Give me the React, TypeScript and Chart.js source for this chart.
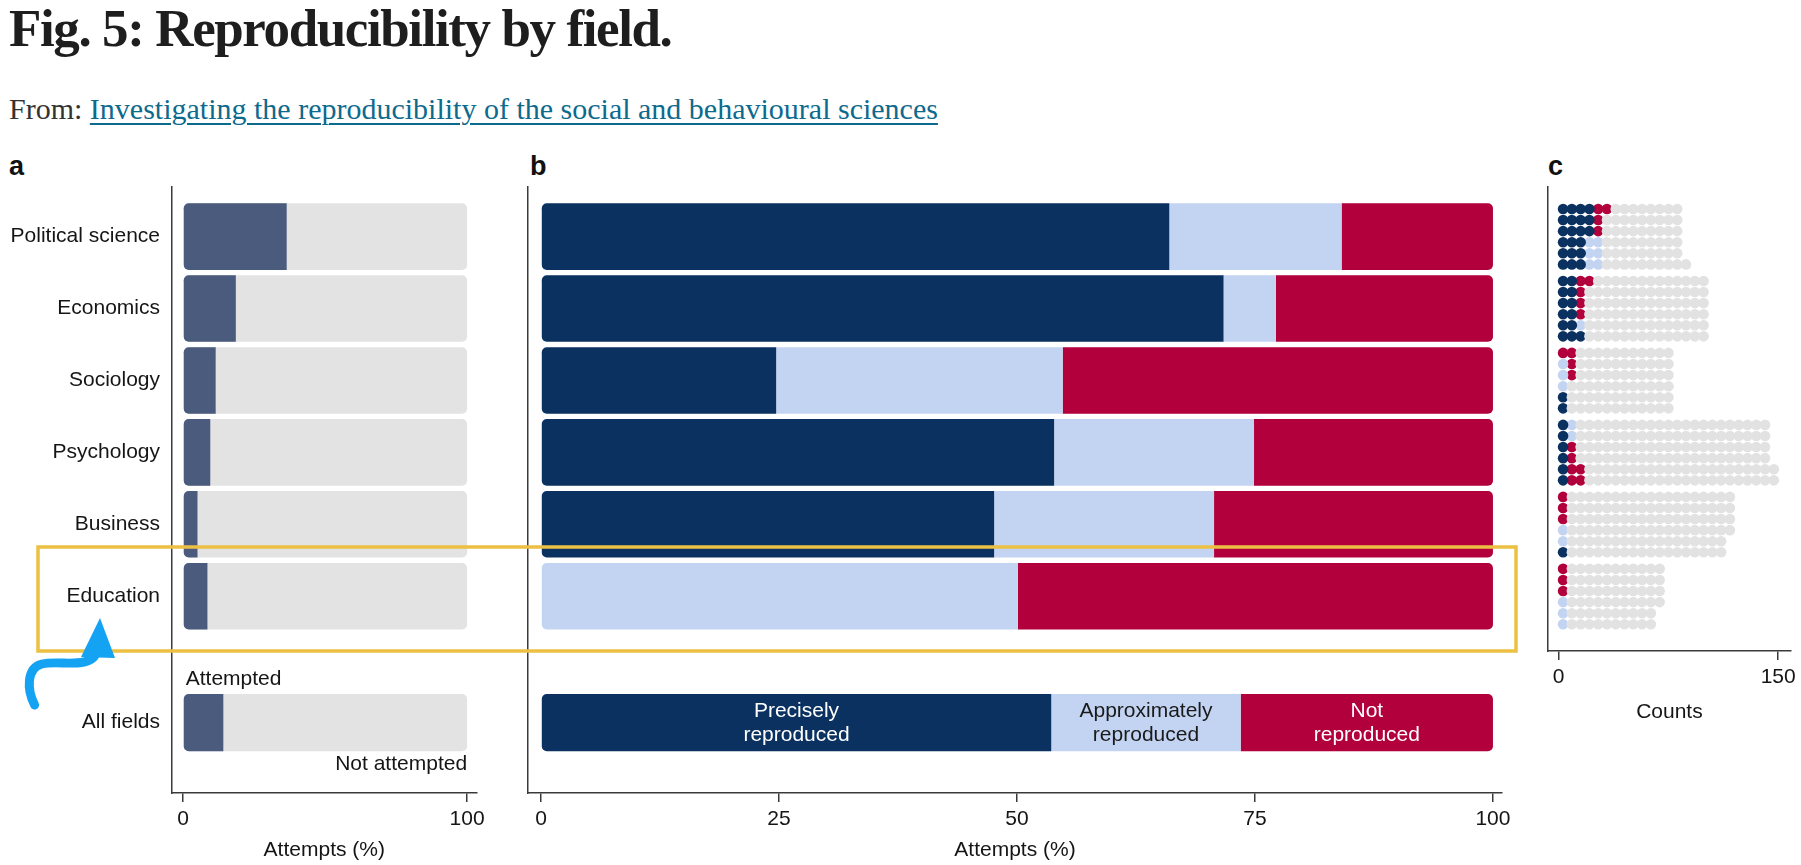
import React, { useEffect, useRef } from "react";
import { Chart, registerables } from "chart.js";

Chart.register(...registerables);

// ---------------- data ----------------
const fields = ["Political science", "Economics", "Sociology", "Psychology", "Business", "Education"];
const allFieldsLabel = "All fields";

// panel a: share of claims attempted (%)
const attemptLabels = ["Attempted", "Not attempted"];
const attemptedPct = [36.5, 18.6, 11.5, 9.6, 5.1, 8.6];
const allAttemptedPct = 14.2;

// panel b: outcome shares of attempts (%)
const outcomeLabels = [["Precisely", "reproduced"], ["Approximately", "reproduced"], ["Not", "reproduced"]];
const precisePct = [66.0, 71.7, 24.7, 53.9, 47.6, 0];
const approxPct = [18.1, 5.5, 30.1, 21.0, 23.1, 50.1];
const notPct = [15.9, 22.8, 45.2, 25.1, 29.3, 49.9];
const allPrecisePct = 53.6;
const allApproxPct = 19.9;
const allNotPct = 26.5;

// panel c: counts of claims
const preciseCount = [21, 13, 2, 6, 1, 0];
const approxCount = [6, 1, 3, 2, 2, 3];
const notCount = [4, 5, 4, 6, 3, 3];
const totalCount = [85, 102, 78, 146, 118, 70];

// tick labels
const ticksA = [0, 100];
const ticksB = [0, 25, 50, 75, 100];
const ticksC = [0, 150];
const axisTitleAB = "Attempts (%)";
const axisTitleC = "Counts";

// ---------------- style ----------------
const FONT = "'Liberation Sans', Arial, Helvetica, sans-serif";
const AXIS = "#3a3a3a";
const TEXT = "#151515";
const SLATE = "#4a5b7e";
const GRAY = "#e3e3e3";
const NAVY = "#0b3160";
const LIGHT = "#c3d4f3";
const RED = "#b1003b";
const DOT_GRAY = "#e2e2e2";
const R = 5;

// layout (index positions on the row axis)
const ALL_POS = 6.757;
const Y_MIN = -0.69;
const Y_MAX_AB = 7.736;
const Y_MAX_C = 5.756;
const ROW_STEP = 0.154;
const DOTS_PER_COL = 6;

const rowTicks = [...fields.map((_, i) => i), ALL_POS];
const rowTicksC = fields.map((_, i) => i);
const rowLabel = (v: number) => (v === ALL_POS ? allFieldsLabel : fields[v] ?? "");

function yScale(max: number, ticks: number[], width: number, showLabels: boolean) {
  return {
    type: "linear" as const,
    reverse: true,
    offset: false,
    min: Y_MIN,
    max,
    afterBuildTicks: (s: any) => {
      s.ticks = ticks.map((v) => ({ value: v }));
    },
    afterFit: (s: any) => {
      s.width = width;
      s.paddingTop = 0;
      s.paddingBottom = 0;
    },
    grid: { display: false, drawTicks: false, offset: false },
    border: { display: true, color: AXIS, width: 1.5 },
    ticks: {
      display: showLabels,
      autoSkip: false,
      padding: 12,
      color: TEXT,
      font: { family: FONT, size: 21 },
      callback: (v: any) => rowLabel(Number(v)),
    },
  };
}

function xScale(min: number, max: number, ticks: number[], height: number, title: string, titlePad: number) {
  return {
    type: "linear" as const,
    min,
    max,
    offset: false,
    afterBuildTicks: (s: any) => {
      s.ticks = ticks.map((v) => ({ value: v }));
    },
    afterFit: (s: any) => {
      s.height = height;
    },
    grid: { display: true, drawOnChartArea: false, drawTicks: true, tickLength: 9, color: AXIS, lineWidth: 1.5 },
    border: { display: true, color: AXIS, width: 1.5 },
    ticks: { padding: 5, color: TEXT, maxRotation: 0, autoSkip: false, font: { family: FONT, size: 21 }, callback: (v: any) => String(v) },
    title: { display: true, text: title, color: TEXT, font: { family: FONT, size: 21 }, padding: { top: 0, bottom: titlePad } },
  };
}

const edgeRadius = (ctx: any) => {
  const raw = ctx.raw;
  if (!raw || !raw.x) return 0;
  const [s, e] = raw.x;
  const l = s <= 0 ? R : 0;
  const r = e >= 100 ? R : 0;
  return { topLeft: l, bottomLeft: l, topRight: r, bottomRight: r };
};

function barDs(label: string, data: any[], color: string, pct: number, order: number, extra: any = {}) {
  return {
    label,
    data,
    backgroundColor: color,
    barPercentage: pct,
    categoryPercentage: 1,
    grouped: false,
    borderSkipped: false,
    borderRadius: edgeRadius,
    order,
    ...extra,
  };
}

function baseOptions(padTop: number, padRight: number, scales: any) {
  return {
    responsive: false,
    animation: false as const,
    events: [],
    indexAxis: "y" as const,
    layout: { padding: { top: padTop, right: padRight, left: 0, bottom: 0 } },
    plugins: { legend: { display: false }, tooltip: { enabled: false } },
    scales,
  };
}

function waffleData(category: number) {
  const pts: { x: number; y: number }[] = [];
  fields.forEach((_, i) => {
    const counts = [preciseCount[i], approxCount[i], notCount[i], totalCount[i] - preciseCount[i] - approxCount[i] - notCount[i]];
    let k = 0;
    counts.forEach((n, c) => {
      for (let j = 0; j < n; j++, k++) {
        if (c !== category) continue;
        const col = Math.floor(k / DOTS_PER_COL);
        const pos = k % DOTS_PER_COL;
        const row = col % 2 === 0 ? DOTS_PER_COL - 1 - pos : pos;
        pts.push({ x: col * DOTS_PER_COL + DOTS_PER_COL / 2, y: i + (row - (DOTS_PER_COL - 1) / 2) * ROW_STEP });
      }
    });
  });
  return pts;
}

export default function App() {
  const refA = useRef<HTMLCanvasElement>(null);
  const refB = useRef<HTMLCanvasElement>(null);
  const refC = useRef<HTMLCanvasElement>(null);

  useEffect(() => {
    Chart.defaults.font.family = FONT;

    // ---------- panel a ----------
    const labelsA = {
      id: "labelsA",
      afterDatasetsDraw(chart: any) {
        const ctx = chart.ctx;
        const att: any = chart.getDatasetMeta(2).data[0];
        const tot: any = chart.getDatasetMeta(3).data[0];
        ctx.save();
        ctx.font = `21px ${FONT}`;
        ctx.fillStyle = TEXT;
        ctx.textBaseline = "middle";
        ctx.textAlign = "left";
        ctx.fillText(attemptLabels[0], att.base + 2, att.y - att.height / 2 - 15);
        ctx.textAlign = "right";
        ctx.fillText(attemptLabels[1], tot.x, tot.y + tot.height / 2 + 13);
        ctx.restore();
      },
    };
    const chartA = new Chart(refA.current!, {
      type: "bar",
      data: {
        datasets: [
          barDs(attemptLabels[0], fields.map((_, i) => ({ x: [0, attemptedPct[i]], y: i })), SLATE, 0.925, 0),
          barDs("Total", fields.map((_, i) => ({ x: [0, 100], y: i })), GRAY, 0.925, 1),
          barDs(attemptLabels[0] + " (all)", [{ x: [0, allAttemptedPct], y: ALL_POS }], SLATE, 0.797, 0),
          barDs("Total (all)", [{ x: [0, 100], y: ALL_POS }], GRAY, 0.797, 1),
        ],
      } as any,
      options: baseOptions(17, 13, {
        x: xScale(-3.87, 103.34, ticksA, 72, axisTitleAB, 2),
        y: yScale(Y_MAX_AB, rowTicks, 172, true),
      }) as any,
      plugins: [labelsA],
    });

    // ---------- panel b ----------
    const segs = (p: number[], a: number[]) => {
      const pre: any[] = [], app: any[] = [], not: any[] = [];
      fields.forEach((_, i) => {
        if (p[i] > 0) pre.push({ x: [0, p[i]], y: i });
        if (a[i] > 0) app.push({ x: [p[i], p[i] + a[i]], y: i });
        not.push({ x: [p[i] + a[i], 100], y: i });
      });
      return [pre, app, not];
    };
    const [preD, appD, notD] = segs(precisePct, approxPct);
    void notPct;
    void allNotPct;
    const labelsB = {
      id: "labelsB",
      afterDatasetsDraw(chart: any) {
        const ctx = chart.ctx;
        ctx.save();
        ctx.font = `21px ${FONT}`;
        ctx.textAlign = "center";
        ctx.textBaseline = "middle";
        chart.data.datasets.forEach((ds: any, di: number) => {
          if (!ds.textLines) return;
          const el: any = chart.getDatasetMeta(di).data[0];
          const cx = (el.x + el.base) / 2;
          ctx.fillStyle = ds.textColor;
          ctx.fillText(ds.textLines[0], cx, el.y - 11.5);
          ctx.fillText(ds.textLines[1], cx, el.y + 12.5);
        });
        ctx.restore();
      },
    };
    const chartB = new Chart(refB.current!, {
      type: "bar",
      data: {
        datasets: [
          barDs("Precisely reproduced", preD, NAVY, 0.925, 0),
          barDs("Approximately reproduced", appD, LIGHT, 0.925, 0),
          barDs("Not reproduced", notD, RED, 0.925, 0),
          barDs("Precisely reproduced (all)", [{ x: [0, allPrecisePct], y: ALL_POS }], NAVY, 0.797, 0, { textLines: outcomeLabels[0], textColor: "#ffffff" }),
          barDs("Approximately reproduced (all)", [{ x: [allPrecisePct, allPrecisePct + allApproxPct], y: ALL_POS }], LIGHT, 0.797, 0, { textLines: outcomeLabels[1], textColor: "#1a1a1a" }),
          barDs("Not reproduced (all)", [{ x: [allPrecisePct + allApproxPct, 100], y: ALL_POS }], RED, 0.797, 0, { textLines: outcomeLabels[2], textColor: "#ffffff" }),
        ],
      } as any,
      options: baseOptions(17, 28, {
        x: xScale(-1.37, 100.95, ticksB, 72, axisTitleAB, 2),
        y: yScale(Y_MAX_AB, rowTicks, 28, false),
      }) as any,
      plugins: [labelsB],
    });

    // ---------- panel c ----------
    const dot = (label: string, cat: number, color: string) => ({
      label,
      data: waffleData(cat),
      backgroundColor: color,
      pointRadius: 5.3,
      pointHoverRadius: 5.3,
      pointBorderWidth: 0,
      borderWidth: 0,
    });
    const chartC = new Chart(refC.current!, {
      type: "scatter",
      data: {
        datasets: [
          dot("Not attempted", 3, DOT_GRAY),
          dot("Precisely reproduced", 0, NAVY),
          dot("Approximately reproduced", 1, LIGHT),
          dot("Not reproduced", 2, RED),
        ],
      },
      options: {
        responsive: false,
        animation: false,
        events: [],
        layout: { padding: { top: 17, right: 3, left: 0, bottom: 0 } },
        plugins: { legend: { display: false }, tooltip: { enabled: false } },
        scales: {
          x: xScale(-7.3, 158.6, ticksC, 79, axisTitleC, 5),
          y: yScale(Y_MAX_C, rowTicksC, 18, false),
        },
      } as any,
    });

    return () => {
      chartA.destroy();
      chartB.destroy();
      chartC.destroy();
    };
  }, []);

  const abs = (left: number, top: number, extra: React.CSSProperties = {}): React.CSSProperties => ({
    position: "absolute",
    left,
    top,
    ...extra,
  });
  const panelLabel: React.CSSProperties = {
    fontFamily: "'Liberation Sans Narrow', 'Liberation Sans', Arial, sans-serif",
    fontWeight: 700,
    fontSize: 27,
    lineHeight: "27px",
    color: "#111",
    margin: 0,
  };

  return (
    <div style={{ position: "absolute", left: 0, top: 0, width: 1801, height: 865, overflow: "hidden", background: "#fff" }}>
      <div
        style={abs(9, 2, {
          fontFamily: "'Liberation Serif', 'DejaVu Serif', serif",
          fontWeight: 700,
          fontSize: 53,
          lineHeight: "53px",
          letterSpacing: -1.4,
          color: "#1e1e1e",
          whiteSpace: "nowrap",
        })}
      >
        Fig. 5: Reproducibility by field.
      </div>
      <div
        style={abs(9, 94, {
          fontFamily: "'Liberation Serif', 'DejaVu Serif', serif",
          fontSize: 30,
          lineHeight: "30px",
          color: "#333",
          whiteSpace: "nowrap",
        })}
      >
        From:{" "}
        <span style={{ color: "#0e6a8d", textDecoration: "underline", textDecorationThickness: 2, textUnderlineOffset: 4 }}>
          Investigating the reproducibility of the social and behavioural sciences
        </span>
      </div>
      <div style={{ ...abs(9, 153), ...panelLabel }}>a</div>
      <div style={{ ...abs(530, 153), ...panelLabel }}>b</div>
      <div style={{ ...abs(1548, 153), ...panelLabel }}>c</div>

      <canvas ref={refA} width={490} height={695} style={abs(0, 170, { width: 490, height: 695 })} />
      <canvas ref={refB} width={1030} height={695} style={abs(500, 170, { width: 1030, height: 695 })} />
      <canvas ref={refC} width={271} height={560} style={abs(1530, 170, { width: 271, height: 560 })} />

      <svg width={1801} height={865} style={abs(0, 0, { pointerEvents: "none" })}>
        <rect x={38} y={547} width={1478} height={104} fill="none" stroke="#ecc043" strokeWidth={3.5} />
        <path
          d="M34.6,705 C27,690 26,668 42,664 C55,661 70,665 84,662 C93,660 96,656 97,650"
          fill="none"
          stroke="#14a2f3"
          strokeWidth={9}
          strokeLinecap="round"
        />
        <polygon points="100,618 81,657 115,658" fill="#14a2f3" />
      </svg>
    </div>
  );
}
